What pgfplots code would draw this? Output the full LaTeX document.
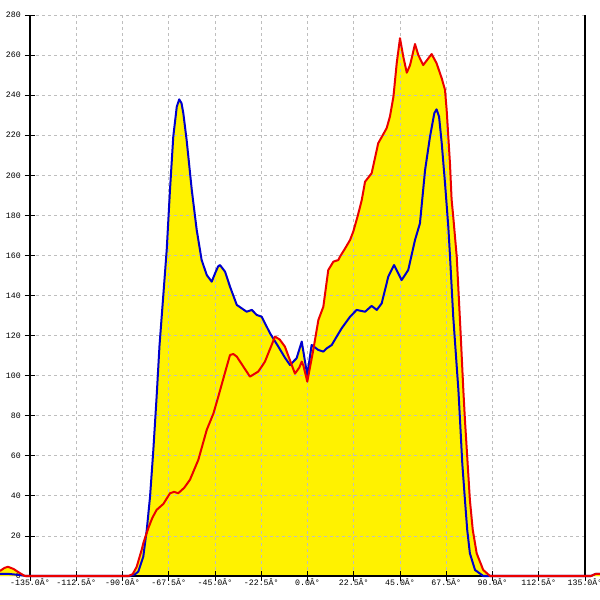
\documentclass[border=0pt]{standalone}
\usepackage{fontspec}
\setmainfont{Liberation Mono}
\usepackage{pgfplots}
\usepackage{pgfplotstable}
\pgfplotsset{compat=1.18}
\definecolor{cred}{RGB}{235,0,0}
\definecolor{cblue}{RGB}{0,0,205}
\definecolor{cgrid}{RGB}{190,190,190}

\pgfplotstableread{
x y
-149.6 1
-145 1
-140 0.5
-137 0
-86.4 0
-84 0.8
-82.3 2.2
-79.9 9.6
-78.2 23
-76.6 39.6
-75 62.9
-73.4 89.5
-72 115
-70.2 139.4
-68.5 162.7
-66.9 192.7
-65.3 219.3
-63.6 234.2
-62.4 237.9
-61.3 236
-60.4 230.9
-58.8 217.6
-56.3 192.7
-53.9 172.7
-51.5 157.7
-49.0 150.2
-46.6 146.9
-45 151
-43.5 154.5
-42.6 155.2
-40.1 151.9
-37.7 144.4
-34.4 135.3
-32 133.6
-29.6 131.9
-27.1 132.8
-24.7 130.3
-22.3 129.4
-18.2 121.1
-14.2 114.5
-11 109
-8.5 105.3
-5.3 108.7
-2.8 117
-1.2 107
-0.1 100.3
2.0 115.3
5.3 112.8
7.7 112
9.3 113.6
11.8 115.3
14.2 119.5
16.6 123.6
20.7 129.4
23.9 132.8
28 131.9
31.2 134.8
33.7 132.8
36.1 136.1
39.3 149.4
42.1 155.2
45.8 147.7
49.0 152.7
52.3 167.7
54.7 176
57.2 202.6
59.6 219.3
61.7 231
62.8 232.9
64 229.3
65.3 216
66.9 196
68.5 174.3
69.3 160
70.9 129.4
72.6 104.5
73.4 93
74.2 77.8
75.3 56.2
76.6 37.9
77.7 23
79.0 11.3
81.5 3
85.5 0
138 0
140 1
142.3 1
}\bluedata

\pgfplotstableread{
x y
-149.6 2.5
-147.5 4
-145.7 4.6
-143 3.5
-140 1.5
-137.5 0
-87 0
-85 1
-83.1 4.6
-80.7 13
-79.9 16.3
-77.4 24
-75.5 29
-73.4 33
-70.1 36
-66.9 41.3
-64.9 42
-62.9 41.3
-60 44
-57.2 48
-53.1 58
-49 73
-45.8 81
-43.4 89.5
-40 102
-37.7 110.3
-36.1 110.8
-34.4 109.5
-32.8 107
-28 99.5
-24 102
-22.3 104.5
-20.7 107
-15.8 119.5
-13.5 118
-11 114.5
-6.1 101
-4 104
-2.8 107
-2.0 105
-0.1 97
2.8 112.8
5.3 127.8
7.7 134.4
10.1 152.7
12.6 156.9
15 157.7
15.8 159.4
18 163
20.7 167.7
22.3 172
24.5 180
26.4 187.7
28 196.8
31.2 201
34.4 216
38.5 223.5
40.1 229.3
41.8 239.2
43.4 255.9
45 268.4
46.6 259.2
48.3 251.2
49.9 255
52.3 265.5
53.9 260
56.3 255
58.8 258.4
60.4 260.5
62.8 255.9
65.3 248.4
66.9 242.6
67.7 232.6
69.3 206
70.1 188
70.9 179.3
72.6 159.4
74.5 121
75.8 93
76.6 77.8
77.9 56.2
79.0 37.9
80.4 23
82.3 11.3
85.5 3
88.8 0
138 0
140 1
142.3 1
}\reddata

\begin{document}
\begin{tikzpicture}
\begin{axis}[
  set layers,
  scale only axis, width=555bp, height=561bp,
  xmin=-135, xmax=135, ymin=0, ymax=280,
  clip=false,
  axis x line=bottom, axis y line=left,
  axis line style={-, black, line width=1.2bp},
  xtick={-135,-112.5,-90,-67.5,-45,-22.5,0,22.5,45,67.5,90,112.5},
  xticklabels={-135.0Â°,-112.5Â°,-90.0Â°,-67.5Â°,-45.0Â°,-22.5Â°,0.0Â°,22.5Â°,45.0Â°,67.5Â°,90.0Â°,112.5Â°},
  extra x ticks={135},
  extra x tick labels={135.0Â°},
  extra x tick style={grid=major, major grid style={solid, black, line width=1.2bp}},
  ytick={0,20,40,60,80,100,120,140,160,180,200,220,240,260,280},
  yticklabels={0,20,40,60,80,100,120,140,160,180,200,220,240,260,280},
  grid=major,
  major grid style={cgrid, dash pattern=on 3bp off 3bp, line width=0.8bp},
  tick align=center, major tick length=10bp,
  tick style={black, line width=0.8bp},
  tick label style={font=\fontsize{8.3}{10}\selectfont, inner sep=0pt, text=black},
  xticklabel style={anchor=north, yshift=3bp},
  yticklabel style={anchor=east, xshift=-4bp},
]
\addplot[fill=yellow, draw=none, on layer=axis background] table[x=x,y=y] {\reddata} \closedcycle;
\addplot[fill=yellow, draw=none, on layer=axis background] table[x=x,y=y] {\bluedata} \closedcycle;
\addplot[cblue, line width=2bp, line join=round] table[x=x,y=y] {\bluedata};
\addplot[cred, line width=2bp, line join=round] table[x=x,y=y] {\reddata};
\coordinate (o) at (axis cs:-135,0);
\end{axis}
\pgfresetboundingbox
\path (o) +(-30bp,-24bp) rectangle +(570bp,576bp);
\end{tikzpicture}
\end{document}
